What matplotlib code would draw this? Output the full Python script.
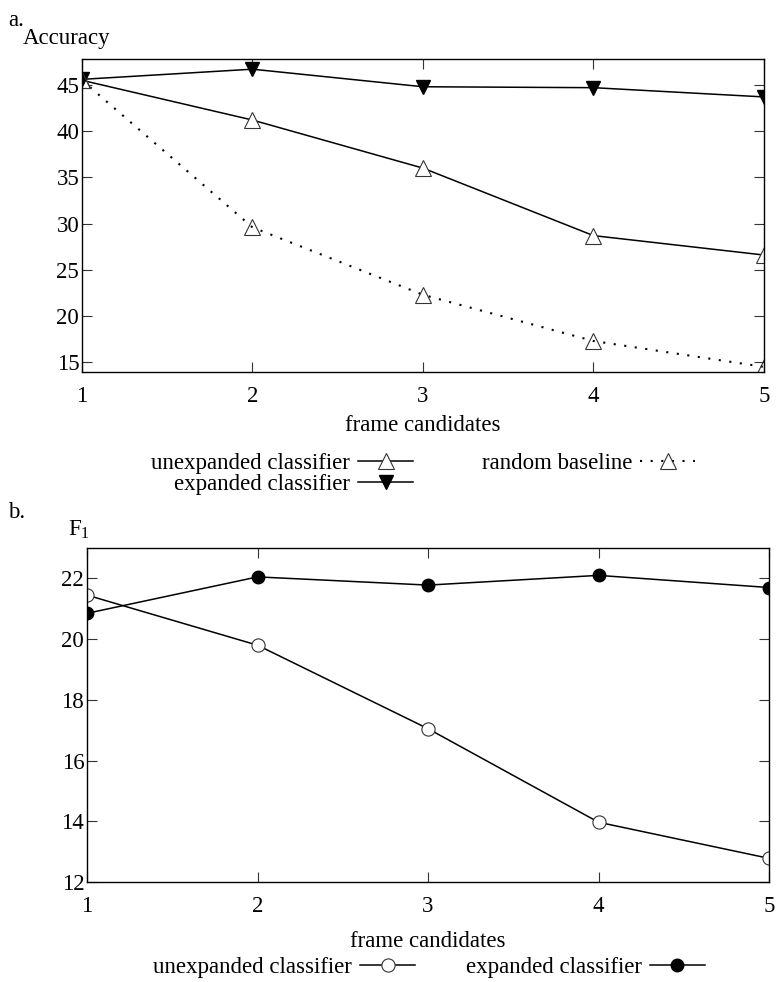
import numpy as np
import matplotlib.pyplot as plt

plt.rcParams['font.family'] = ['Liberation Serif', 'DejaVu Serif']
plt.rcParams['font.size'] = 16.5
plt.rcParams['mathtext.fontset'] = 'custom'
plt.rcParams['mathtext.rm'] = 'Liberation Serif'

candidates = [1, 2, 3, 4, 5]

# accuracy panel
acc_unexpanded = [45.5, 41.2, 36.0, 28.7, 26.6]
acc_expanded = [45.6, 46.7, 44.8, 44.7, 43.7]
acc_random = [45.5, 29.6, 22.3, 17.3, 14.5]

# F1 panel
f1_unexpanded = [21.45, 19.8, 17.05, 13.97, 12.78]
f1_expanded = [20.85, 22.05, 21.78, 22.1, 21.7]

acc_yticks = [15, 20, 25, 30, 35, 40, 45]
f1_yticks = [12, 14, 16, 18, 20, 22]

fs = 16.5

fig = plt.figure(figsize=(7.77, 9.82), dpi=100)
ax1 = fig.add_axes([0.1055, 0.6212, 0.8777, 0.3187])
ax2 = fig.add_axes([0.1120, 0.1018, 0.8777, 0.3401])

grey = '#333333'

def style_axes(ax):
    for s in ax.spines.values():
        s.set_linewidth(1.0)
        s.set_color('black')
    ax.tick_params(direction='in', length=7, width=0.8, color=grey,
                   top=True, right=True, labelsize=fs)
    ax.tick_params(axis='x', pad=10)
    ax.tick_params(axis='y', pad=2)
    ax.set_xlim(1, 5)
    ax.set_xticks(candidates)

l1, = ax1.plot(candidates, acc_unexpanded, color='black', lw=1.1,
               marker='^', ms=11, mfc='white', mec=grey, mew=0.8,
               label='unexpanded classifier')
l2, = ax1.plot(candidates, acc_expanded, color='black', lw=1.1,
               marker='v', ms=10, mfc='black', mec='black',
               label='expanded classifier')
l3, = ax1.plot(candidates, acc_random, color='black', lw=1.5,
               linestyle=(0, (1, 4.1)), marker='^', ms=11,
               mfc='none', mec=grey, mew=0.8, label='random baseline')
style_axes(ax1)
ax1.set_ylim(13.95, 47.8)
ax1.set_yticks(acc_yticks)
ax1.set_xlabel('frame candidates', fontsize=fs, labelpad=6)
fig.text(0.010, 0.990, 'a.', fontsize=fs, va='top')
fig.text(0.029, 0.955, 'Accuracy', fontsize=fs, va='baseline')
ax1.legend(handles=[l1, l2, l3], ncol=2, markerfirst=False, frameon=False,
           loc='upper center', bbox_to_anchor=(0.545, 0.539),
           bbox_transform=fig.transFigure, fontsize=fs, handlelength=2.4,
           handletextpad=0.35, columnspacing=3.0, labelspacing=0.0,
           borderpad=0, borderaxespad=0)

m1, = ax2.plot(candidates, f1_unexpanded, color='black', lw=1.1,
               marker='o', ms=9.5, mfc='white', mec=grey, mew=0.8,
               label='unexpanded classifier')
m2, = ax2.plot(candidates, f1_expanded, color='black', lw=1.1,
               marker='o', ms=9, mfc='black', mec='black',
               label='expanded classifier')
style_axes(ax2)
ax2.set_ylim(12, 23)
ax2.set_yticks(f1_yticks)
ax2.set_xlabel('frame candidates', fontsize=fs, labelpad=10)
fig.text(0.010, 0.489, 'b.', fontsize=fs, va='top')
fig.text(0.087, 0.455, r'F$_1$', fontsize=fs, va='baseline')
ax2.legend(handles=[m1, m2], ncol=2, markerfirst=False, frameon=False,
           loc='upper center', bbox_to_anchor=(0.552, 0.025),
           bbox_transform=fig.transFigure, fontsize=fs, handlelength=2.4,
           handletextpad=0.35, columnspacing=2.2, borderpad=0,
           borderaxespad=0)

fig.savefig('out.png', dpi=100)
